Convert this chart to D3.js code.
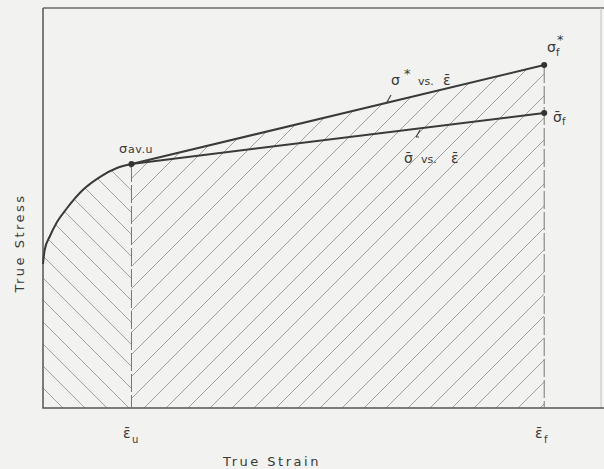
<html>
<script src="https://d3js.org/d3.v7.min.js"></script>
<style>
	body {margin: 0; background: #f2f2f0;}
	text {font-family: "DejaVu Sans", sans-serif; fill: #3a3a3a;}
</style>
<body>
<svg width=604 height=469></svg>
<script>
// strain / stress in arbitrary units
var curveStrain = [0, 0.003, 0.0125, 0.025, 0.043, 0.071, 0.102, 0.132, 0.158]
var curveStress = [36, 39.5, 43, 46.5, 50, 54.5, 57.8, 60, 61]
var epsU = 0.158, epsF = 0.895
var sigU = 61
var sigStarF = 85.75   // sigma* vs eps at fracture
var sigBarF = 73.75    // sigma-bar vs eps at fracture

var svg = d3.select("svg")
var x = d3.scaleLinear().domain([0, 1]).range([43, 603])
var y = d3.scaleLinear().domain([0, 100]).range([408, 8])

var curvePts = curveStrain.map((d, i) => [d, curveStress[i]])
var line = d3.line().x(d => x(d[0])).y(d => y(d[1]))
var smooth = d3.line().curve(d3.curveMonotoneX).x(d => x(d[0])).y(d => y(d[1]))

// clip regions for hatching
var defs = svg.append("defs")
defs.append("clipPath").attr("id", "clipL")
	.append("path").attr("d", smooth(curvePts) + "L" + x(epsU) + "," + y(0) + "L" + x(0) + "," + y(0) + "Z")
defs.append("clipPath").attr("id", "clipR")
	.append("path").attr("d", line([[epsU, sigU], [epsF, sigStarF], [epsF, 0], [epsU, 0]]) + "Z")

// hatch lines
var gap = 22
var hl = svg.append("g").attr("clip-path", "url(#clipL)")
	.attr("stroke", "#a0a0a0").attr("stroke-width", 1)
d3.range(-420, 200, gap).forEach(function(c) {
	hl.append("line").attr("x1", 83 + c).attr("y1", 8).attr("x2", 83 + c + 400).attr("y2", 408)
})
var hr = svg.append("g").attr("clip-path", "url(#clipR)")
	.attr("stroke", "#a0a0a0").attr("stroke-width", 1)
d3.range(-300, 700, gap).forEach(function(c) {
	hr.append("line").attr("x1", 136 + c).attr("y1", 408).attr("x2", 136 + c + 420).attr("y2", 408 - 420)
})

// frame / axes
svg.append("path").attr("d", "M43,8H604").attr("stroke", "#6a6a6a").attr("stroke-width", 1.5).attr("fill", "none")
svg.append("path").attr("d", "M601,8V408").attr("stroke", "#c4c4c4").attr("stroke-width", 1).attr("fill", "none")
svg.append("path").attr("d", "M43,8V408H604").attr("stroke", "#555").attr("stroke-width", 1.5).attr("fill", "none")

// dashed verticals
svg.append("line").attr("x1", x(epsU)).attr("x2", x(epsU)).attr("y1", y(sigU)).attr("y2", y(0))
	.attr("stroke", "#777").attr("stroke-width", 1).attr("stroke-dasharray", "18,3")
svg.append("line").attr("x1", x(epsF)).attr("x2", x(epsF)).attr("y1", y(sigStarF)).attr("y2", y(0))
	.attr("stroke", "#777").attr("stroke-width", 1).attr("stroke-dasharray", "18,3")

// curves
svg.append("path").attr("d", smooth(curvePts))
	.attr("fill", "none").attr("stroke", "#3a3a3a").attr("stroke-width", 2)
svg.append("path").attr("d", line([[epsU, sigU], [epsF, sigStarF]]))
	.attr("fill", "none").attr("stroke", "#3a3a3a").attr("stroke-width", 2)
svg.append("path").attr("d", line([[epsU, sigU], [epsF, sigBarF]]))
	.attr("fill", "none").attr("stroke", "#3a3a3a").attr("stroke-width", 2)

svg.selectAll("circle.pt").data([[epsU, sigU], [epsF, sigStarF], [epsF, sigBarF]])
	.enter().append("circle").attr("cx", d => x(d[0])).attr("cy", d => y(d[1])).attr("r", 3).attr("fill", "#333")

// leader marks
svg.append("path").attr("d", "M387,102 L391,95 M387,102 L390,102").attr("stroke", "#444").attr("stroke-width", 1.2).attr("fill", "none")
svg.append("path").attr("d", "M416,137 L420,130 M416,137 L419,137").attr("stroke", "#444").attr("stroke-width", 1.2).attr("fill", "none")

// labels
function txt(px, py, s, size) {
	return svg.append("text").attr("x", px).attr("y", py).attr("font-size", size).text(s)
}
txt(119, 153, "σ", 13)
txt(128, 153, "av.u", 11).attr("letter-spacing", 0.5)

txt(391, 85, "σ", 14)
txt(404, 78, "*", 13)
txt(418, 85, "vs.", 11)
txt(443, 85, "ε̄", 14)

txt(404, 163, "σ̄", 14)
txt(421, 163, "vs.", 11)
txt(451, 163, "ε̄", 14)

txt(547, 52, "σ", 14)
txt(556, 56, "f", 10)
txt(557, 44, "*", 13)

txt(553, 122, "σ̄", 14)
txt(562, 125, "f", 10)

txt(123, 438, "ε̄", 14)
txt(132, 443, "u", 10)
txt(535, 438, "ε̄", 14)
txt(544, 443, "f", 10)

svg.append("text").attr("x", 272).attr("y", 466).attr("text-anchor", "middle")
	.attr("font-size", 13).attr("letter-spacing", 2.5).text("True Strain")
svg.append("text").attr("transform", "translate(24,243) rotate(-90)").attr("text-anchor", "middle")
	.attr("font-size", 13).attr("letter-spacing", 2.5).text("True Stress")
</script>
</body>
</html>
